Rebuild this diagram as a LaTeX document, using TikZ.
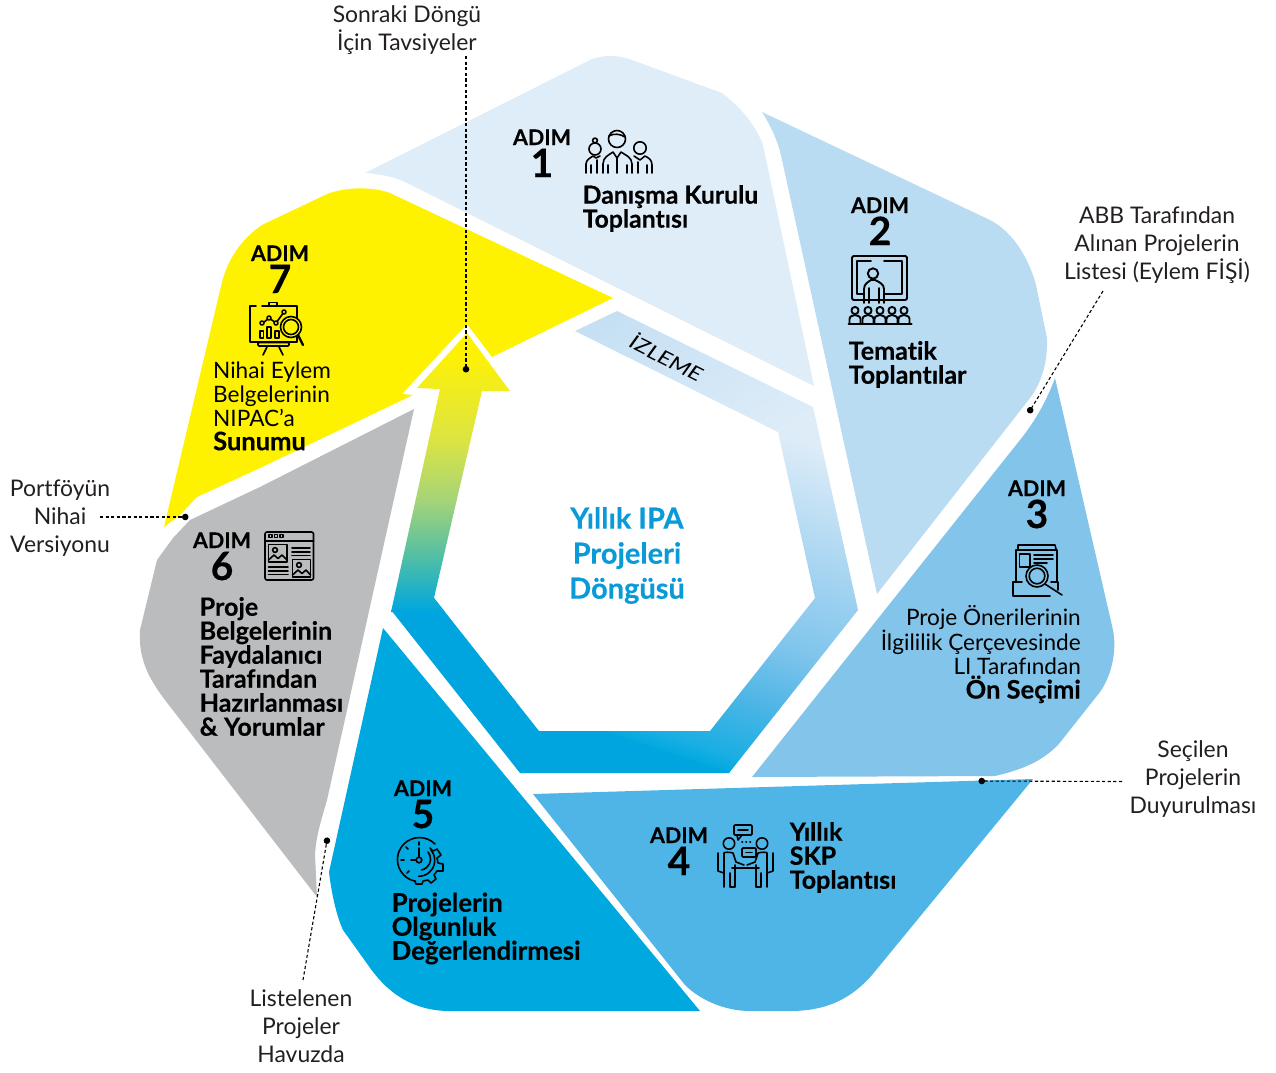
\documentclass[tikz,border=0pt]{standalone}
\usepackage{fontspec}
\setmainfont{Lato}[Ligatures=CommonOff,BoldFeatures={FakeBold=0.35}]
\usetikzlibrary{arrows.meta}
\definecolor{cOne}{HTML}{DFEDF8}
\definecolor{cTwo}{HTML}{B9DCF3}
\definecolor{cThree}{HTML}{82C4EA}
\definecolor{cFour}{HTML}{4FB5E6}
\definecolor{cFive}{HTML}{00A8E0}
\definecolor{cSix}{HTML}{BBBCBE}
\definecolor{cSeven}{HTML}{FFF200}
\definecolor{cTitle}{HTML}{0B9AD8}
\definecolor{cLabel}{HTML}{231F20}
\definecolor{bandA}{HTML}{C4DFF3}
\definecolor{rB}{HTML}{DEECF8}
\definecolor{rC}{HTML}{BFDFF4}
\definecolor{rD}{HTML}{9BD0F0}
\definecolor{rE}{HTML}{80C5EC}
\definecolor{rF}{HTML}{4DB5E6}
\definecolor{rG}{HTML}{1AAEE3}
\definecolor{rH}{HTML}{00A9E0}
\definecolor{rBase}{HTML}{00A5DF}
\definecolor{sA}{HTML}{00A6DF}
\definecolor{sB}{HTML}{4CBDA8}
\definecolor{sC}{HTML}{A5D478}
\definecolor{sD}{HTML}{DBE442}
\definecolor{sE}{HTML}{F0EC20}
\newcommand{\gstrip}[6]{\shade[top color=#3,bottom color=#4] (#5,#1) rectangle (#6,#2);}
\newcommand{\adimlabel}[4]{%
  \node[adimtxt] (#1a) at (#2,#3) {ADIM};
  \node[numtxt] (#1n) at (#2,#3+32) {#4};}
\newcommand{\bsec}[1]{{\fontsize{25.5}{24}\selectfont\bfseries #1}}
\tikzset{
  ic/.style={draw=black,line width=1.6,line cap=round,line join=round},
  adimtxt/.style={anchor=base,inner sep=0,font=\fontsize{21.5}{24}\selectfont\bfseries,text=black},
  numtxt/.style={anchor=base,inner sep=0,font=\fontsize{39}{40}\selectfont\bfseries,text=black},
  boldtxt/.style={inner sep=0,align=left,anchor=west,text=black,font=\fontsize{25.1}{24}\selectfont\bfseries},
  regtxt/.style={inner sep=0,align=left,anchor=west,text=black,font=\fontsize{22.6}{24}\selectfont},
  lbl/.style={inner sep=0,align=center,text=cLabel,font=\fontsize{22.9}{27.7}\selectfont},
  leader/.style={draw=black,line width=1.1,dash pattern=on 3.2pt off 2.4pt,-{Circle[length=6.5pt,width=6.5pt]}},
}
\begin{document}
\begin{tikzpicture}[x=1pt,y=-1pt]
\useasboundingbox (0,0) rectangle (1276,1072);
% step shapes
\fill[cOne] (365,173) -- (590,60) .. controls (605,54) and (618,55) .. (632,60) -- (722,93) .. controls (742,108) and (757,128) .. (763,145) -- (814,386) -- (405,182) .. controls (392,176) and (378,174) .. (365,173) -- cycle;
\fill[cTwo] (762,112) -- (990,220) .. controls (1015,233) and (1030,262) .. (1036,285) -- (1047,338) .. controls (1048,365) and (1040,385) .. (1030,398) -- (877,594) -- (782,160) .. controls (778,140) and (770,125) .. (762,112) -- cycle;
\fill[cThree] (1055,378) -- (1113,630) .. controls (1117,650) and (1112,675) .. (1100,692) -- (1058,745) .. controls (1040,763) and (1020,770) .. (995,776) -- (752,777) -- (1020,440) .. controls (1032,425) and (1045,405) .. (1055,378) -- cycle;
\fill[cFour] (533,794) -- (1033,779) -- (872,975) .. controls (850,1000) and (825,1011) .. (790,1011) -- (750,1011) .. controls (725,1011) and (700,1000) .. (685,985) -- cycle;
\fill[cFive] (383,628) -- (700,1011) -- (450,1011) .. controls (410,1011) and (385,990) .. (368,965) -- (343,930) .. controls (336,915) and (331,890) .. (329,872) -- cycle;
\fill[cSix] (414,409) -- (260,487) -- (190,520) -- (173,538) -- (157,560) -- (140,630) .. controls (138,660) and (150,680) .. (165,700) -- (317,897) -- (315,855) .. controls (316,835) and (322,818) .. (327,800) -- cycle;
\fill[cSeven] (613,298) -- (390,193) .. controls (375,187) and (345,186) .. (325,195) -- (262,225) .. controls (240,240) and (228,260) .. (222,282) -- (164,527) -- (180,515) -- (197,497) -- (260,468) -- (413,395) -- (402,394) -- (467,324) -- (492,357) -- cycle;
% ring: right side and bottom
\begin{scope}
\clip (813,407) -- (858,610) -- (729,773) -- (520,773) -- (391,610) -- (434,598) -- (539,731) -- (710,731) -- (815,598) -- (778,432) -- cycle;
\fill[rBase] (380,590) -- (600,590) -- (600,729) -- (735,774) -- (735,780) -- (380,780) -- cycle;
\begin{scope}[transform canvas={shift={(820,410)},rotate=-18.4}]
\gstrip{-10}{34.4}{rB}{rB}{-200}{300}
\gstrip{34}{100.4}{rB}{rC}{-200}{300}
\gstrip{100}{175.4}{rC}{rD}{-200}{300}
\gstrip{175}{235.4}{rD}{rE}{-200}{300}
\gstrip{235}{298.4}{rE}{rF}{-200}{300}
\gstrip{298}{356.4}{rF}{rG}{-200}{300}
\gstrip{356}{373}{rG}{rH}{-200}{300}
\end{scope}
\end{scope}
% ring: top band
\begin{scope}
\clip (575,331) -- (617,311) -- (813,407) -- (778,432) -- cycle;
\begin{scope}[transform canvas={shift={(813,407)},rotate=-144.5}]
\gstrip{-5}{205}{rB}{bandA}{-300}{300}
\end{scope}
\end{scope}
% ring: rising arrow
\begin{scope}
\clip (391,612) -- (440,389) -- (417,388) -- (467,333) -- (510,391) -- (482,391) -- (434,598) -- (445,612) -- cycle;
\gstrip{560}{612}{sB}{sA}{380}{520}
\gstrip{500}{560.3}{sC}{sB}{380}{520}
\gstrip{440}{500.3}{sD}{sC}{380}{520}
\gstrip{390}{440.3}{sE}{sD}{380}{520}
\gstrip{350}{390.3}{cSeven}{sE}{380}{520}
\fill[cSeven] (380,320) rectangle (520,350.3);
\end{scope}
\node[rotate=-27,xscale=1.25,inner sep=0,text=black,font=\fontsize{19.5}{20}\selectfont\itshape] (izleme) at (667,357) {İZLEME};
\node[inner sep=0,align=center,text=cTitle,font=\fontsize{29}{35}\selectfont\bfseries] (title) at (627,555.5) {Yıllık IPA\\Projeleri\\Döngüsü};
% step labels
\adimlabel{s1}{542}{145}{1}
\adimlabel{s2}{880}{213}{2}
\adimlabel{s3}{1037}{496}{3}
\adimlabel{s4}{679}{843}{4}
\adimlabel{s5}{423}{796}{5}
\adimlabel{s6}{222}{548}{6}
\adimlabel{s7}{280}{261}{7}
\node[boldtxt,font=\fontsize{24.8}{24}\selectfont\bfseries] (t1) at (582.5,208.5) {Danışma Kurulu\\Toplantısı};
\node[boldtxt] (t2) at (848.5,364.5) {Tematik\\Toplantılar};
\node[regtxt,anchor=east,align=right] (t3) at (1081,654) {Proje Önerilerinin\\İlgililik Çerçevesinde\\LI Tarafından\\\bsec{Ön Seçimi}};
\node[boldtxt] (t4) at (789.5,857.5) {Yıllık\\SKP\\Toplantısı};
\node[boldtxt,font=\fontsize{25.8}{24}\selectfont\bfseries] (t5) at (391.5,928.5) {Projelerin\\Olgunluk\\Değerlendirmesi};
\node[boldtxt] (t6) at (199.5,666.5) {Proje\\Belgelerinin\\Faydalanıcı\\Tarafından\\Hazırlanması\\\& Yorumlar};
\node[regtxt] (t7) at (213,406) {Nihai Eylem\\Belgelerinin\\NIPAC’a\\\bsec{Sunumu}};
% outer labels and leaders
\node[lbl] (lA) at (407,30) {Sonraki Döngü\\İçin Tavsiyeler};
\node[lbl] (lB) at (1157,245) {ABB Tarafından\\Alınan Projelerin\\Listesi (Eylem FİŞİ)};
\node[lbl] (lC) at (1193,779) {Seçilen\\Projelerin\\Duyurulması};
\node[lbl] (lD) at (301,1026) {Listelenen\\Projeler\\Havuzda};
\node[lbl] (lE) at (60,518) {Portföyün\\Nihai\\Versiyonu};
\coordinate (a0) at (466,56);   \coordinate (a1) at (466,372.5);
\coordinate (b0) at (1103,291); \coordinate (b1) at (1028.5,413);
\coordinate (c0) at (1122,781.5); \coordinate (c1) at (978.5,781);
\coordinate (d0) at (303,980);  \coordinate (d1) at (327.5,837.5);
\coordinate (e0) at (100,517);  \coordinate (e1) at (188.5,517);
\draw[leader] (a0) -- (a1);
\draw[leader] (b0) -- (b1);
\draw[leader] (c0) -- (c1);
\draw[leader] (d0) -- (d1);
\draw[leader] (e0) -- (e1);
% icon 1: three people
\draw[ic] (617,139) circle (8.5);
\draw[ic] (609,136) .. controls (613,133) and (621,134) .. (625,137);
\draw[ic] (603,173) -- (603,164) .. controls (603,157) and (609,155) .. (613,152) -- (617,158) -- (621,152) .. controls (625,155) and (632,157) .. (632,164) -- (632,173);
\draw[ic] (608,173) -- (608,165) (627,173) -- (627,165) (617,158) -- (617,173);
\draw[ic] (595,149) circle (6);
\draw[ic] (595,140.5) circle (2.4);
\draw[ic] (586,173) -- (586,164) .. controls (586,160) and (590,158) .. (593,156) -- (596,158) -- (600,156);
\draw[ic] (591,173) -- (591,165) (597,173) -- (597,160);
\draw[ic] (640,148) circle (6.2);
\draw[ic] (634,156) -- (640,160) -- (645,156) .. controls (649,158) and (652,160) .. (652,165) -- (652,173);
\draw[ic] (647,173) -- (647,165) (638,173) -- (638,162);
% icon 2: presenter and audience
\draw[ic,line width=1.9,rounded corners=1.5] (852,256) rectangle (907,300);
\draw[ic,line width=1.9] (871,261) -- (857,261) -- (857,294) -- (863,294);
\draw[ic,line width=1.9] (884,261) -- (902,261) -- (902,294) -- (885,294);
\draw[ic,line width=1.9] (873,273.5) circle (5.2);
\draw[ic,line width=1.9] (864,303) -- (864,289) .. controls (864,284) and (868,282) .. (871,280) -- (875,280) .. controls (879,282) and (884,284) .. (884,289) -- (884,303);
\draw[ic,line width=1.9] (869,303) -- (869,288) (879,303) -- (879,288);
\foreach \px in {855,868,880,892,904}{
  \draw[ic,line width=1.9] (\px,310.5) circle (3.6);
  \draw[ic,line width=1.9] (\px-5.5,323) -- (\px-5.5,319) .. controls (\px-5.5,316) and (\px-2,315.5) .. (\px,315) .. controls (\px+2,315.5) and (\px+5.5,316) .. (\px+5.5,319) -- (\px+5.5,323);
}
\draw[ic,line width=2] (848.5,323.5) -- (911.5,323.5);
% icon 3: document and magnifier
\draw[ic] (1018,549) -- (1018,545) -- (1055,545) -- (1056,549);
\draw[ic] (1016,582) -- (1016,550) -- (1057,550) -- (1057,582);
\draw[ic] (1019.5,554) rectangle (1030,567);
\draw[ic] (1034,555) -- (1053,555) (1034,559) -- (1053,559) (1034,563) -- (1047,563);
\draw[ic] (1022,582) -- (1013,582) -- (1013,596) -- (1050,596);
\draw[ic] (1051,582) -- (1058,582) -- (1058,590);
\draw[ic,fill=cThree] (1037,576) circle (11);
\draw[ic] (1037,576) circle (7.8);
\draw[ic] (1045,584) -- (1062,595);
% icon 4: two people at table
\draw[ic,rounded corners=1] (734,825) rectangle (752,835);
\draw[ic] (737,835) -- (738,840) -- (742,835);
\draw[ic] (738,830) -- (748,830);
\draw[ic] (729,843.5) circle (5.7);
\draw[ic] (762,843.5) circle (5.7);
\draw[ic] (742,842) -- (742.5,842) (746,842) -- (746.5,842) (750,842) -- (750.5,842);
\draw[ic,rounded corners=1] (742,848) rectangle (756,857);
\draw[ic] (746,852.5) -- (752,852.5);
\draw[ic] (718,853) -- (718,871) -- (724,873);
\draw[ic] (773,853) -- (773,871) -- (767,873);
\draw[ic] (724,887) -- (724,853) .. controls (724,852) and (730,852) .. (733,853) -- (736,862) -- (744,865);
\draw[ic] (767,887) -- (767,853) .. controls (767,852) and (761,852) .. (758,853) -- (755,862) -- (747,865);
\draw[ic] (735,865) -- (735,887) -- (730,887) -- (730,873);
\draw[ic] (756,865) -- (756,887) -- (761,887) -- (761,873);
\draw[ic] (732,868) -- (759,868);
% icon 5: clock and gear
\draw[ic] (435,844) arc (-45:-260:22);
\draw[ic] (415,881.5) -- (416,884) -- (422,884) -- (423,881) -- (428,880) -- (431,883) -- (436,879) -- (434,875) -- (437,871) -- (443,871) -- (443,864) -- (438,863) -- (437,858) -- (441,855) -- (437,849) -- (433,851) -- (430,848);
\draw[ic] (419,860) circle (2.8);
\draw[ic] (419,857) -- (419,848) (416,860) -- (411,860);
\draw[ic] (428,852) arc (-40:80:11);
\draw[ic] (431,850) arc (-40:90:16);
\draw[ic] (419,845) -- (419,842) (404,860) -- (401,860) (408,849) -- (406,847) (409,871) -- (407,873);
% icon 6: web page
\draw[ic,rounded corners=2] (265,532) rectangle (313.5,580);
\draw[ic] (265,541) -- (313.5,541);
\draw[ic] (269,534.5) rectangle (272,537.5) (274.5,534.5) rectangle (277.5,537.5) (280,534.5) rectangle (283,537.5);
\draw[ic] (268.5,544.5) rectangle (287,562);
\draw[ic] (275,550) circle (2.4);
\draw[ic] (268.5,560) -- (274,555) -- (278,558.5) -- (282,555) -- (287,560);
\draw[ic] (292,548) -- (310,548) (292,552) -- (310,552) (292,555.5) -- (310,555.5);
\draw[ic] (292.5,559.5) rectangle (310.5,577);
\draw[ic] (299,565) circle (2.4);
\draw[ic] (292.5,575) -- (298,570) -- (302,573.5) -- (306,570) -- (310.5,575);
\draw[ic] (268.5,567) -- (288,567) (268.5,571) -- (288,571) (268.5,574.5) -- (288,574.5);
% icon 7: chart board and magnifier
\draw[ic] (256,306) -- (250,306) -- (250,342) -- (297,342) -- (297,306) -- (262,306);
\draw[ic] (269,306) -- (269,302.5) -- (277,302.5) -- (277,306);
\draw[ic,rounded corners=1] (258,342.5) rectangle (289,346);
\draw[ic] (267,347) -- (263,355) (279,347) -- (283,355);
\draw[ic] (263,323) -- (269,318) -- (276,323) -- (284,312);
\draw[ic,fill=cSeven] (262,323) circle (2) (269,318) circle (2) (276,323) circle (2) (284,312) circle (2);
\draw[ic] (260,338) rectangle (263.5,331) (267,338) rectangle (271,327) (275,338) rectangle (279,331);
\draw[ic,fill=cSeven] (291,327) circle (10.5);
\draw[ic] (291,327) circle (7.5);
\draw[ic,line width=2.4] (298,335) -- (303,345);
\end{tikzpicture}
\end{document}
